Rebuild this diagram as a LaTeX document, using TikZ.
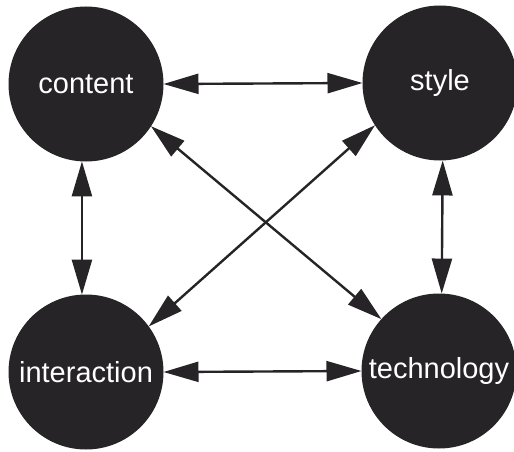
\documentclass[tikz,border=0pt]{standalone}
\usepackage{fontspec}
\setmainfont{Liberation Sans}
\usetikzlibrary{arrows.meta}
\definecolor{ink}{RGB}{38,36,38}
\begin{document}
\begin{tikzpicture}[x=1pt,y=-1pt,
  topic/.style={circle,fill=ink,text=white,minimum size=155pt,inner sep=0pt,outer sep=0pt,
    font=\fontsize{29}{34}\selectfont},
  link/.style={draw=ink,line width=2.4pt,
    {Triangle[length=35pt,width=20pt]}-{Triangle[length=35pt,width=20pt]}}]
  \useasboundingbox (0,0) rectangle (514,452);
  \node[topic] (content) at (86,84) {content};
  \node[topic] (style) at (440,83) {style};
  \node[topic] (interaction) at (86,372) {interaction};
  \node[topic] (technology) at (439,371) {technology};
  \draw[link] (content.east) -- (style.west);
  \draw[link] (interaction.east) -- (technology.west);
  \draw[link] (content.-93) -- (interaction.93);
  \draw[link] (style.-88) -- (technology.88);
  \draw[link] (content.-33) -- (technology.138);
  \draw[link] (style.213) -- (interaction.36);
\end{tikzpicture}
\end{document}
